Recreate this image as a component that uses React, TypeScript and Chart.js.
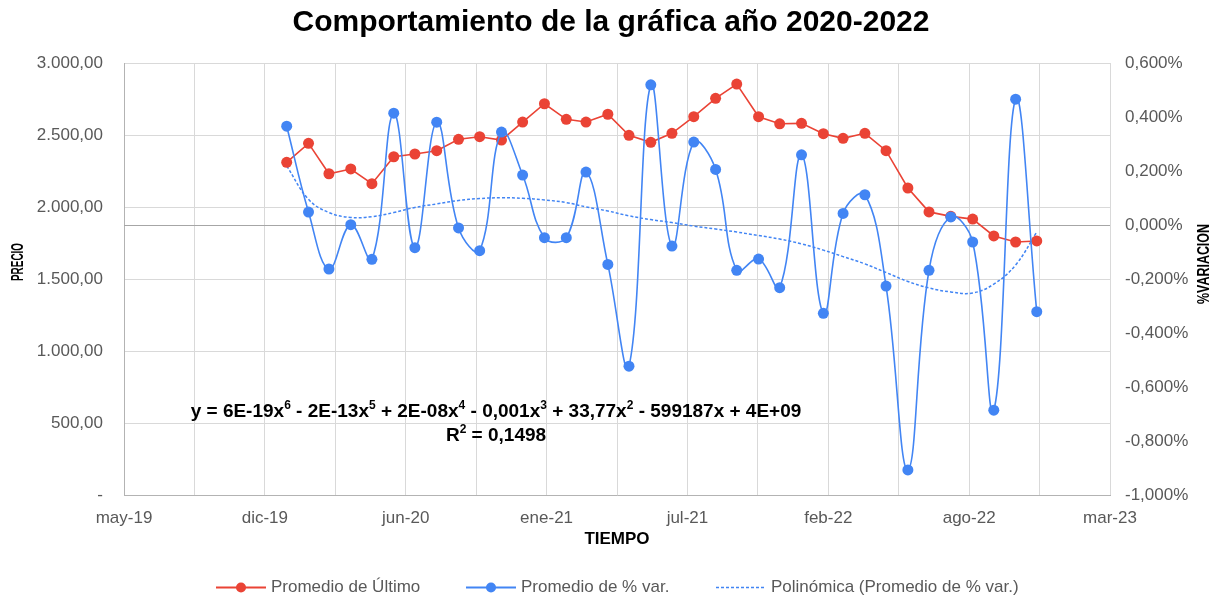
import React, { useEffect, useRef } from 'react';
import { Chart, registerables } from 'chart.js';

Chart.register(...registerables);

// ---- Data ----
const monthLabels = [
  'ene-20', 'feb-20', 'mar-20', 'abr-20', 'may-20', 'jun-20', 'jul-20', 'ago-20', 'sep-20', 'oct-20', 'nov-20', 'dic-20',
  'ene-21', 'feb-21', 'mar-21', 'abr-21', 'may-21', 'jun-21', 'jul-21', 'ago-21', 'sep-21', 'oct-21', 'nov-21', 'dic-21',
  'ene-22', 'feb-22', 'mar-22', 'abr-22', 'may-22', 'jun-22', 'jul-22', 'ago-22', 'sep-22', 'oct-22', 'nov-22', 'dic-22',
];
const firstYear = 2020;

const promedioUltimo = [
  2310, 2442, 2231, 2264, 2162, 2349, 2368, 2391, 2470, 2488, 2465, 2590,
  2717, 2609, 2590, 2644, 2498, 2449, 2512, 2627, 2755, 2854, 2627, 2578,
  2581, 2509, 2477, 2512, 2391, 2132, 1966, 1935, 1916, 1799, 1757, 1764,
];

const promedioVar = [
  0.366, 0.048, -0.163, 0.001, -0.127, 0.414, -0.084, 0.381, -0.011, -0.095, 0.344, 0.185,
  -0.047, -0.047, 0.196, -0.146, -0.523, 0.519, -0.078, 0.307, 0.206, -0.168, -0.126, -0.232,
  0.260, -0.327, 0.043, 0.112, -0.226, -0.907, -0.168, 0.030, -0.063, -0.686, 0.466, -0.321,
];

const polinomica = [
  0.219, 0.095, 0.046, 0.028, 0.031, 0.046, 0.065, 0.078, 0.091, 0.098, 0.101, 0.099,
  0.093, 0.083, 0.067, 0.052, 0.034, 0.020, 0.009, -0.004, -0.015, -0.026, -0.039, -0.052,
  -0.070, -0.093, -0.117, -0.144, -0.176, -0.209, -0.233, -0.248, -0.252, -0.219, -0.148, -0.026,
];

const xTickLabels = ['may-19', 'dic-19', 'jun-20', 'ene-21', 'jul-21', 'feb-22', 'ago-22', 'mar-23'];
const leftTickLabels = ['-', '500,00', '1.000,00', '1.500,00', '2.000,00', '2.500,00', '3.000,00'];
const rightTickLabels = ['-1,000%', '-0,800%', '-0,600%', '-0,400%', '-0,200%', '0,000%', '0,200%', '0,400%', '0,600%'];

const seriesNames = ['Promedio de Último', 'Promedio de % var.', 'Polinómica (Promedio de % var.)'];
const chartTitle = 'Comportamiento de la gráfica año 2020-2022';
const xTitle = 'TIEMPO';
const yTitle = 'PRECIO';
const y1Title = '%VARIACION';
const equationParts: [string, boolean][] = [
  ['y = 6E-19x', false], ['6', true], [' - 2E-13x', false], ['5', true], [' + 2E-08x', false], ['4', true],
  [' - 0,001x', false], ['3', true], [' + 33,77x', false], ['2', true], [' - 599187x + 4E+09', false],
];
const r2Parts: [string, boolean][] = [['R', false], ['2', true], [' = 0,1498', false]];

// ---- Styles ----
const RED = '#EA4335';
const BLUE = '#4285F4';
const FONT = "'Liberation Sans', Arial, sans-serif";
const TICK_SIZE = 17;
const X_MIN = 43600;
const X_MAX = 45000;
const X_GRID_STEP = 100;
const X_LABEL_STEP = 200;

const toSerial = (i: number) => (Date.UTC(firstYear, i, 1) - Date.UTC(1899, 11, 30)) / 86400000;

function drawParts(ctx: CanvasRenderingContext2D, parts: [string, boolean][], cx: number, cy: number, size: number) {
  const main = `bold ${size}px ${FONT}`;
  const sup = `bold ${Math.round(size * 0.62)}px ${FONT}`;
  let total = 0;
  const widths = parts.map(([t, s]) => {
    ctx.font = s ? sup : main;
    const w = ctx.measureText(t).width;
    total += w;
    return w;
  });
  let x = cx - total / 2;
  ctx.textAlign = 'left';
  ctx.textBaseline = 'middle';
  parts.forEach(([t, s], i) => {
    ctx.font = s ? sup : main;
    ctx.fillText(t, x, s ? cy - size * 0.32 : cy);
    x += widths[i];
  });
}

function drawVertical(ctx: CanvasRenderingContext2D, text: string, cx: number, cy: number, length: number) {
  ctx.save();
  ctx.font = `bold 17px ${FONT}`;
  const w = ctx.measureText(text).width;
  ctx.translate(cx, cy);
  ctx.rotate(-Math.PI / 2);
  ctx.scale(length / w, 1);
  ctx.textAlign = 'center';
  ctx.textBaseline = 'middle';
  ctx.fillText(text, 0, 0);
  ctx.restore();
}

const decorPlugin = {
  id: 'decor',
  beforeDatasetsDraw(chart: any) {
    const { ctx, chartArea, scales } = chart;
    const y0 = Math.round(scales.y1.getPixelForValue(0)) + 0.5;
    ctx.save();
    ctx.strokeStyle = '#a6a6a6';
    ctx.lineWidth = 1;
    ctx.beginPath();
    ctx.moveTo(chartArea.left, y0);
    ctx.lineTo(chartArea.right, y0);
    ctx.stroke();
    ctx.restore();
  },
  afterDraw(chart: any) {
    const { ctx } = chart;
    ctx.save();
    ctx.fillStyle = '#000';
    // Title
    ctx.font = `bold 30px ${FONT}`;
    ctx.textAlign = 'center';
    ctx.textBaseline = 'middle';
    ctx.fillText(chartTitle, 611, 23);
    // Axis titles
    ctx.font = `bold 17px ${FONT}`;
    ctx.fillText(xTitle, 617, 539);
    drawVertical(ctx, yTitle, 18, 262, 38);
    drawVertical(ctx, y1Title, 1204, 264, 80);
    // Trendline equation
    ctx.fillStyle = '#000';
    drawParts(ctx, equationParts, 496, 412, 19);
    drawParts(ctx, r2Parts, 496, 436, 19);
    // Legend
    const ly = 587;
    const items = [
      { x: 216, color: RED, dash: false, dot: true, text: seriesNames[0] },
      { x: 466, color: BLUE, dash: false, dot: true, text: seriesNames[1] },
      { x: 716, color: BLUE, dash: true, dot: false, text: seriesNames[2] },
    ];
    items.forEach((it) => {
      ctx.strokeStyle = it.color;
      ctx.lineWidth = it.dash ? 1.3 : 1.8;
      ctx.setLineDash(it.dash ? [3, 2] : []);
      ctx.beginPath();
      ctx.moveTo(it.x, ly + 0.5);
      ctx.lineTo(it.x + 50, ly + 0.5);
      ctx.stroke();
      ctx.setLineDash([]);
      if (it.dot) {
        ctx.fillStyle = it.color;
        ctx.beginPath();
        ctx.arc(it.x + 25, ly + 0.5, 5, 0, Math.PI * 2);
        ctx.fill();
      }
      ctx.fillStyle = '#595959';
      ctx.font = `${TICK_SIZE}px ${FONT}`;
      ctx.textAlign = 'left';
      ctx.textBaseline = 'middle';
      ctx.fillText(it.text, it.x + 55, ly);
    });
    ctx.restore();
  },
};

export default function App() {
  const ref = useRef<HTMLCanvasElement | null>(null);

  useEffect(() => {
    if (!ref.current) return;
    const xs = monthLabels.map((_, i) => toSerial(i));
    const chart = new Chart(ref.current, {
      type: 'line',
      data: {
        datasets: [
          {
            label: seriesNames[1],
            data: promedioVar.map((v, i) => ({ x: xs[i], y: v })),
            yAxisID: 'y1',
            borderColor: BLUE,
            backgroundColor: BLUE,
            pointBackgroundColor: BLUE,
            pointBorderColor: BLUE,
            pointRadius: 5.5,
            pointBorderWidth: 0,
            borderWidth: 1.6,
            tension: 0.4,
          },
          {
            label: seriesNames[0],
            data: promedioUltimo.map((v, i) => ({ x: xs[i], y: v })),
            yAxisID: 'y',
            borderColor: RED,
            backgroundColor: RED,
            pointBackgroundColor: RED,
            pointBorderColor: RED,
            pointRadius: 5.5,
            pointBorderWidth: 0,
            borderWidth: 1.6,
            tension: 0,
          },
          {
            label: seriesNames[2],
            data: polinomica.map((v, i) => ({ x: xs[i], y: v })),
            yAxisID: 'y1',
            borderColor: BLUE,
            borderDash: [3, 2],
            borderWidth: 1.5,
            pointRadius: 0,
            tension: 0.4,
          },
        ],
      },
      options: {
        responsive: false,
        animation: false,
        devicePixelRatio: 1,
        layout: { padding: { top: 63, left: 0, right: 0, bottom: 0 } },
        plugins: {
          legend: { display: false },
          title: { display: false },
          tooltip: { enabled: false },
        },
        scales: {
          x: {
            type: 'linear',
            min: X_MIN,
            max: X_MAX,
            afterFit: (s: any) => { s.height = 104; },
            grid: { color: '#d9d9d9', drawTicks: false, lineWidth: 1 },
            border: { color: '#b3b3b3' },
            ticks: {
              stepSize: X_GRID_STEP,
              maxTicksLimit: 100,
              autoSkip: false,
              maxRotation: 0,
              padding: 13,
              color: '#595959',
              font: { family: FONT, size: TICK_SIZE },
              callback: (v: any) => {
                const k = (Number(v) - X_MIN) / X_LABEL_STEP;
                return Math.abs(k - Math.round(k)) < 1e-6 ? xTickLabels[Math.round(k)] : '';
              },
            },
          },
          y: {
            position: 'left',
            min: 0,
            max: 3000,
            afterFit: (s: any) => { s.width = 124; },
            grid: { color: '#d9d9d9', drawTicks: false },
            border: { color: '#b3b3b3' },
            ticks: {
              stepSize: 500,
              padding: 21,
              color: '#595959',
              font: { family: FONT, size: TICK_SIZE },
              callback: (v: any) => leftTickLabels[Math.round(Number(v) / 500)],
            },
          },
          y1: {
            position: 'right',
            min: -1,
            max: 0.6,
            afterFit: (s: any) => { s.width = 104; },
            grid: { display: false, drawTicks: false },
            border: { display: false },
            ticks: {
              stepSize: 0.2,
              padding: 15,
              color: '#595959',
              font: { family: FONT, size: TICK_SIZE },
              callback: (v: any) => rightTickLabels[Math.round((Number(v) + 1) / 0.2)],
            },
          },
        },
      },
      plugins: [decorPlugin],
    });
    return () => chart.destroy();
  }, []);

  return (
    <div style={{ position: 'fixed', left: 0, top: 0, width: 1214, height: 599, background: '#fff' }}>
      <canvas ref={ref} width={1214} height={599} />
    </div>
  );
}
